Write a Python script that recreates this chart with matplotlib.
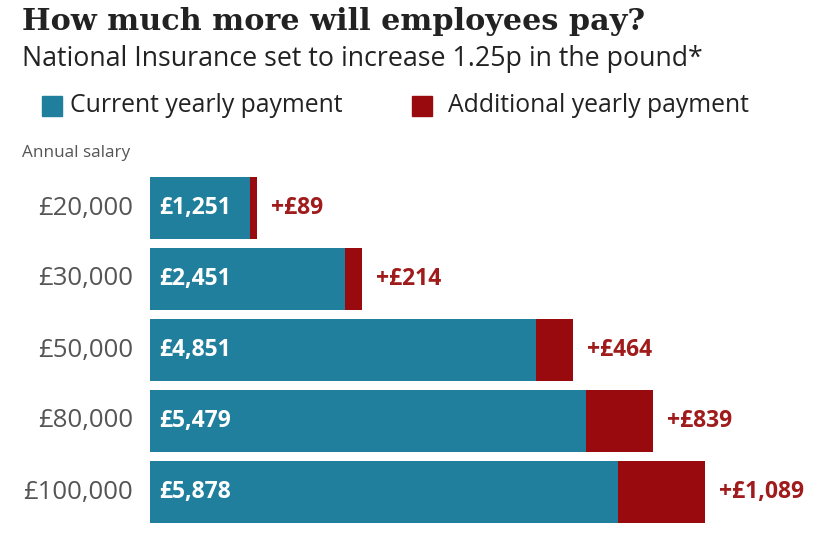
import matplotlib
matplotlib.use("Agg")
import matplotlib.pyplot as plt
from matplotlib.patches import Rectangle

salaries = ["£20,000", "£30,000", "£50,000", "£80,000", "£100,000"]
current = [1251, 2451, 4851, 5479, 5878]
additional = [89, 214, 464, 839, 1089]

TEAL = "#1f7f9c"
RED = "#990a0f"
RED_TXT = "#a01c1c"
GRAY = "#555555"
W, H = 819, 538

fig = plt.figure(figsize=(W / 100, H / 100), dpi=100)
fig.patch.set_facecolor("white")

def fx(x):
    return x / W

def fy(y):
    return 1 - y / H

ax = fig.add_axes([fx(150), fy(527.5), fx(819 - 150), (355) / H])
y = list(range(len(salaries)))
ax.barh(y, current, height=0.873, color=TEAL, left=0)
ax.barh(y, additional, height=0.873, color=RED, left=current)
ax.set_xlim(0, 669 / 0.0796)
ax.set_ylim(4.5, -0.5)
ax.axis("off")

sans = "Open Sans"
for i, (c, a) in enumerate(zip(current, additional)):
    ax.text(120, i, f"£{c:,}", color="white", fontsize=16.5, fontweight="bold",
            va="center", ha="left", family=sans)
    ax.text(c + a + 180, i, f"+£{a:,}", color=RED_TXT, fontsize=16.5, fontweight="bold",
            va="center", ha="left", family=sans)
    ax.text(-210, i, salaries[i], color=GRAY, fontsize=18.5, va="center", ha="right",
            family=sans)

fig.text(fx(22), fy(21), "How much more will employees pay?", fontsize=21.8,
         fontweight="bold", family="DejaVu Serif", color="#222222", va="center", ha="left")
fig.text(fx(22), fy(59), "National Insurance set to increase 1.25p in the pound*", fontsize=19.3,
         family=sans, color="#222222", va="center", ha="left")

fig.patches.append(Rectangle((fx(42), fy(116)), fx(20), 20 / H, transform=fig.transFigure,
                             color=TEAL))
fig.text(fx(70), fy(105), "Current yearly payment", fontsize=17.8, family=sans,
         color="#222222", va="center", ha="left")
fig.patches.append(Rectangle((fx(412), fy(116)), fx(20), 20 / H, transform=fig.transFigure,
                             color=RED))
fig.text(fx(448), fy(105), "Additional yearly payment", fontsize=17.8, family=sans,
         color="#222222", va="center", ha="left")
fig.text(fx(22), fy(153), "Annual salary", fontsize=12.3, family=sans, color=GRAY,
         va="center", ha="left")

fig.savefig("out.png", dpi=100)
